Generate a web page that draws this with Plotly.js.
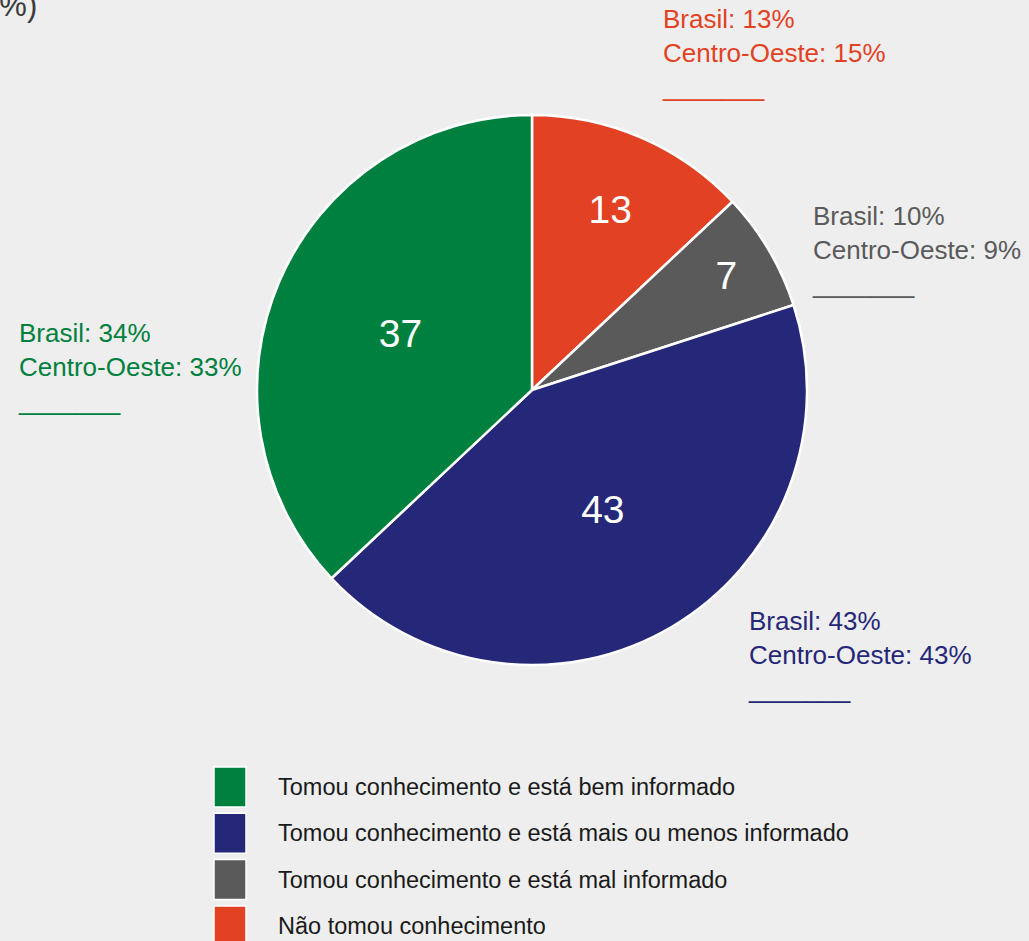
<!DOCTYPE html>
<html>
<head>
<meta charset="utf-8">
<script src="https://cdn.plot.ly/plotly-3.0.1.min.js"></script>
<style>
html,body{margin:0;padding:0;background:#eeeeee;}
#chart{width:1029px;height:941px;}
</style>
</head>
<body>
<div id="chart"></div>
<script>
// ---- data ----
const categories = [
  "Tomou conhecimento e está bem informado",
  "Tomou conhecimento e está mais ou menos informado",
  "Tomou conhecimento e está mal informado",
  "Não tomou conhecimento"
];
const values = [37, 43, 7, 13];
const brasil = [34, 43, 10, 13];
const centroOeste = [33, 43, 9, 15];
const colors = ["#00803e", "#252778", "#5a5a5a", "#e34124"];
const titleText = "(%)";

// ---- layout helpers ----
const W = 1029, H = 941;
const px = x => x / W;
const py = y => 1 - y / H;

// comparison label positions (left x, top y), one per category
const labelPos = [[16, 316], [746, 604], [810, 199], [660, 2]];

const annotations = categories.map((c, i) => ({
  xref: "paper", yref: "paper",
  x: px(labelPos[i][0]), y: py(labelPos[i][1]),
  xanchor: "left", yanchor: "top", align: "left",
  showarrow: false,
  text: "Brasil: " + brasil[i] + "%<br>Centro-Oeste: " + centroOeste[i] + "%<br>_______",
  font: {family: "Liberation Sans, Arial, sans-serif", size: 26, color: colors[i]}
}));

// cut-off title fragment at top-left
annotations.push({
  xref: "paper", yref: "paper",
  x: px(39), y: py(25), xanchor: "right", yanchor: "bottom",
  showarrow: false, text: titleText,
  font: {family: "Liberation Sans, Arial, sans-serif", size: 31, color: "#3c3c3c"}
});

// custom legend
const shapes = [];
const legTop = 767, legStep = 46.3, boxH = 40;
categories.forEach((c, i) => {
  const y0 = legTop + i * legStep;
  shapes.push({
    type: "rect", xref: "paper", yref: "paper",
    x0: px(214), x1: px(246), y0: py(y0), y1: py(y0 + boxH),
    fillcolor: colors[i], line: {color: "#ffffff", width: 1.5}
  });
  annotations.push({
    xref: "paper", yref: "paper",
    x: px(276), y: py(y0 + boxH / 2), xanchor: "left", yanchor: "middle",
    showarrow: false, text: c,
    font: {family: "Liberation Sans, Arial, sans-serif", size: 23.5, color: "#1a1a1a"}
  });
});

// slices drawn clockwise from 12 o'clock in reverse category order
const order = [3, 2, 1, 0];

const trace = {
  type: "pie",
  values: order.map(i => values[i]),
  labels: order.map(i => categories[i]),
  sort: false,
  direction: "clockwise",
  rotation: 0,
  marker: {colors: order.map(i => colors[i]), line: {color: "#ffffff", width: 2.5}},
  textinfo: "value",
  textposition: "inside",
  insidetextorientation: "horizontal",
  textfont: {family: "Liberation Sans, Arial, sans-serif", size: 39, color: "#ffffff"},
  hoverinfo: "none",
  showlegend: false,
  domain: {x: [px(257), px(807)], y: [py(665), py(115)]}
};

const layout = {
  width: W, height: H,
  margin: {l: 0, r: 0, t: 0, b: 0},
  paper_bgcolor: "#eeeeee",
  plot_bgcolor: "#eeeeee",
  showlegend: false,
  annotations: annotations,
  shapes: shapes
};

Plotly.newPlot("chart", [trace], layout, {displayModeBar: false, staticPlot: true});
</script>
</body>
</html>
